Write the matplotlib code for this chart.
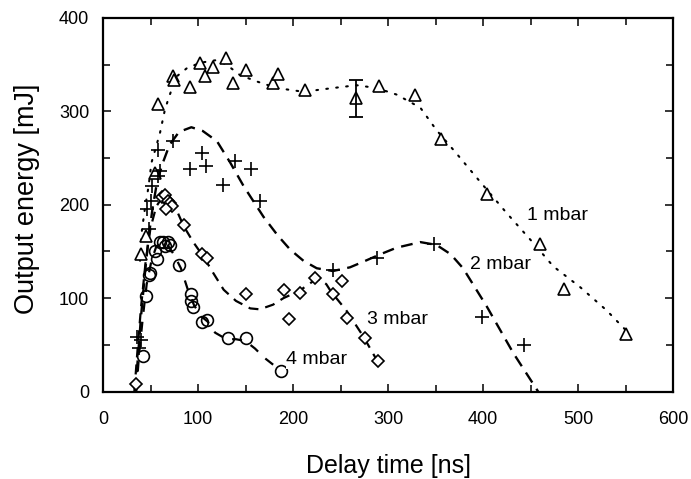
import matplotlib
matplotlib.use("Agg")
import matplotlib.pyplot as plt
from matplotlib.ticker import MultipleLocator

plt.rcParams['font.family'] = ['Liberation Sans', 'DejaVu Sans']

# ---- data: measured points ----
tri_x = [40, 45, 55, 58, 74, 75, 92, 102, 107, 116, 129, 137, 150, 179, 184, 213, 266, 290, 328, 356, 404, 460, 485, 551]
tri_y = [147, 167, 234, 308, 338, 334, 326, 352, 338, 348, 357, 330, 344, 330, 340, 323, 314, 327, 318, 270, 211, 158, 110, 62]
err_x = [266]
err_y = [314]
err_e = [20]

plus_x = [36, 38, 40, 46, 48, 50, 52, 58, 58, 60, 74, 92, 104, 108, 126, 139, 156, 165, 242, 288, 348, 399, 443]
plus_y = [58, 47, 55, 195, 174, 204, 220, 259, 231, 236, 268, 238, 255, 242, 221, 247, 238, 204, 130, 143, 158, 80, 50]

dia_x = [35, 62, 65, 68, 70, 73, 66, 85, 104, 109, 151, 191, 196, 207, 223, 242, 252, 257, 276, 289]
dia_y = [8, 208, 210, 204, 202, 199, 195, 178, 147, 143, 104, 109, 78, 105, 122, 104, 118, 79, 57, 33]

circ_x = [42, 45, 48, 49, 55, 57, 60, 63, 65, 68, 70, 80, 93, 93, 95, 104, 109, 132, 150, 187]
circ_y = [38, 102, 125, 127, 151, 142, 160, 160, 156, 160, 157, 135, 104, 97, 90, 74, 77, 57, 57, 22]

# ---- fitted guide curves ----
c1_x = [39, 41, 44, 48, 51, 55, 60, 65, 69, 77, 88, 102, 120, 130, 144, 162, 183, 211, 242, 267, 288, 309, 334, 351, 372, 395, 425, 453, 474, 502, 530, 550]
c1_y = [140, 173, 195, 220, 245, 259, 277, 301, 314, 337, 346, 352, 355, 350, 339, 332, 325, 321, 325, 328, 325, 318, 304, 280, 255, 227, 191, 159, 134, 112, 87, 66]

c2_x = [34, 37, 40, 44, 48, 52, 57, 63, 70, 80, 93, 105, 120, 134, 148, 169, 184, 197, 211, 225, 242, 260, 274, 292, 309, 334, 351, 366, 379, 404, 432, 458]
c2_y = [0, 40, 80, 125, 165, 195, 225, 245, 264, 278, 283, 279, 268, 245, 220, 187, 167, 152, 140, 132, 129, 133, 139, 147, 154, 160, 157, 147, 132, 91, 41, 0]

c3_x = [33, 36, 40, 45, 50, 56, 63, 70, 78, 85, 95, 106, 116, 127, 140, 155, 165, 179, 190, 207, 221, 228, 235, 240, 256, 274, 288, 292]
c3_y = [0, 40, 90, 140, 175, 198, 209, 205, 193, 177, 160, 144, 127, 109, 97, 89, 88, 93, 100, 108, 118, 120, 115, 107, 87, 59, 34, 27]

c4_x = [35, 38, 42, 46, 51, 56, 62, 68, 75, 82, 89, 96, 104, 110, 118, 130, 140, 150, 160, 170, 180, 186]
c4_y = [0, 40, 80, 115, 140, 155, 160, 157, 146, 132, 110, 92, 80, 75, 63, 56, 56, 54, 46, 36, 28, 23]

labels = ["1 mbar", "2 mbar", "3 mbar", "4 mbar"]
label_x = [478, 418, 310, 225]
label_y = [189, 136, 77, 34]

x_ticks = [0, 100, 200, 300, 400, 500, 600]
y_ticks = [0, 100, 200, 300, 400]

fig = plt.figure(figsize=(6.91, 4.79), dpi=100)
ax = fig.add_axes([103/691, 1-391.5/479, 570/691, (391.5-18)/479])

# curves
ax.plot(c1_x, c1_y, color='black', lw=1.5, linestyle=(0, (0.8, 4.0)), dash_capstyle='round')
ax.plot(c2_x, c2_y, color='black', lw=1.7, linestyle=(0, (5, 3.2)))
ax.plot(c3_x, c3_y, color='black', lw=1.6, linestyle=(0, (4.5, 3.2)))
ax.plot(c4_x, c4_y, color='black', lw=1.6, linestyle=(0, (4.5, 4.5)))

# points
ax.plot(tri_x, tri_y, linestyle='none', marker='^', ms=9, mfc='white', mec='black', mew=1.2)
ax.errorbar(err_x, err_y, yerr=err_e, fmt='none', ecolor='black', elinewidth=1.3, capsize=5, capthick=1.3)
ax.plot(plus_x, plus_y, linestyle='none', marker='+', ms=9.5, mec='black', mew=1.2)
ax.plot(dia_x, dia_y, linestyle='none', marker='D', ms=6.5, mfc='white', mec='black', mew=1.2)
ax.plot(circ_x, circ_y, linestyle='none', marker='o', ms=8.5, mfc='none', mec='black', mew=1.2)

for t, lx, ly in zip(labels, label_x, label_y):
    ax.text(lx, ly, t, fontsize=14, ha='center', va='center',
            bbox=dict(facecolor='white', edgecolor='none', pad=0.3))

ax.set_xlim(0, 600)
ax.set_ylim(0, 400)
ax.set_xticks(x_ticks)
ax.set_yticks(y_ticks)
ax.xaxis.set_minor_locator(MultipleLocator(50))
ax.yaxis.set_minor_locator(MultipleLocator(50))
ax.tick_params(which='both', direction='in', top=True, right=True, width=1.1, labelsize=13)
ax.tick_params(which='major', length=6)
ax.tick_params(which='minor', length=5)
ax.tick_params(axis='x', pad=14)
ax.tick_params(axis='y', pad=10)
for s in ax.spines.values():
    s.set_linewidth(1.6)

fig.text(388/691, 1-466/479, "Delay time [ns]", fontsize=18, ha='center', va='center')
fig.text(27/691, 1-199/479, "Output energy [mJ]", fontsize=19.5, ha='center', va='center', rotation=90)

fig.savefig("out.png", dpi=100)
